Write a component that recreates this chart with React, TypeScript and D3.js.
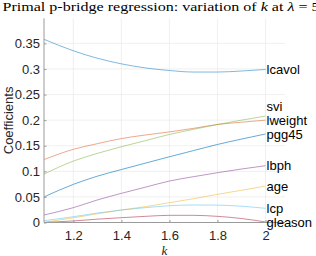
import { useEffect, useRef } from 'react'
import * as d3 from 'd3'

// k values where the coefficients were read
const kValues = [1.078, 1.2, 1.3, 1.4, 1.5, 1.6, 1.7, 1.8, 1.9, 2.0]

const lcavol = [0.358, 0.3355, 0.321, 0.31, 0.302, 0.297, 0.294, 0.294, 0.296, 0.299]
const lweight = [0.123, 0.143, 0.154, 0.164, 0.171, 0.177, 0.184, 0.1915, 0.196, 0.2]
const age = [0.0005, 0.009, 0.017, 0.0244, 0.031, 0.0387, 0.0465, 0.055, 0.063, 0.0712]
const lbph = [0.0146, 0.029, 0.044, 0.057, 0.069, 0.081, 0.0895, 0.0973, 0.1045, 0.111]
const svi = [0.0946, 0.12, 0.135, 0.148, 0.16, 0.172, 0.182, 0.1915, 0.2, 0.208]
const lcp = [0.0035, 0.0113, 0.0185, 0.0244, 0.029, 0.0328, 0.0342, 0.034, 0.0318, 0.0277]
const gleason = [0.0, 0.003, 0.0065, 0.0094, 0.012, 0.014, 0.014, 0.012, 0.0078, 0.001]
const pgg45 = [0.05, 0.0745, 0.0905, 0.1035, 0.116, 0.1285, 0.1405, 0.1525, 0.163, 0.173]

const seriesNames = ['lcavol', 'lweight', 'age', 'lbph', 'svi', 'lcp', 'gleason', 'pgg45']
const seriesValues = [lcavol, lweight, age, lbph, svi, lcp, gleason, pgg45]

const xTicks = [1.2, 1.4, 1.6, 1.8, 2]
const yTicks = [0, 0.05, 0.1, 0.15, 0.2, 0.25, 0.3, 0.35]

// matlab default colour order
const colors = ['#0072BD', '#D95319', '#EDB120', '#7E2F8E', '#77AC30', '#4DBEEE', '#A2142F', '#0072BD']

export default function App() {
  const svgRef = useRef<SVGSVGElement>(null)
  const width = 316
  const height = 256

  useEffect(() => {
    if (!svgRef.current) return

    const marginLeft = 44
    const marginRight = 31
    const marginTop = 18.3
    const marginBottom = 33.5
    const sans = '"Liberation Sans", Arial, sans-serif'
    const serif = '"Liberation Serif", "DejaVu Serif", serif'

    const svg = d3.select(svgRef.current)
    svg.selectAll('*').remove()

    const x = d3.scaleLinear()
      .domain([1.078, 2.081])
      .range([marginLeft, width - marginRight])
    const y = d3.scaleLinear()
      .domain([0, 0.399])
      .range([height - marginBottom, marginTop])

    // Grid
    const grid = svg.append('g').attr('stroke', '#e6e6e6').attr('stroke-width', 0.6)
    grid.selectAll('line.v')
      .data(xTicks)
      .join('line')
      .attr('x1', d => x(d)).attr('x2', d => x(d))
      .attr('y1', marginTop).attr('y2', height - marginBottom)
    grid.selectAll('line.h')
      .data(yTicks)
      .join('line')
      .attr('class', 'h')
      .attr('x1', marginLeft).attr('x2', width - marginRight)
      .attr('y1', d => y(d)).attr('y2', d => y(d))

    // Lines
    const line = d3.line<number>()
      .x((_, i) => x(kValues[i]))
      .y(d => y(d))
      .curve(d3.curveMonotoneX)

    svg.append('g')
      .selectAll('path')
      .data(seriesValues)
      .join('path')
      .attr('fill', 'none')
      .attr('stroke', (_, i) => colors[i])
      .attr('stroke-opacity', (_, i) => (i === 7 ? 0.6 : 0.5))
      .attr('stroke-width', 1)
      .attr('d', d => line(d))

    // Axes
    const axisColor = '#9a9a9a'
    const yAxis = svg.append('g')
      .attr('transform', `translate(${marginLeft},0)`)
      .call(d3.axisLeft(y).tickValues(yTicks).tickSize(-2.5).tickPadding(4)
        .tickFormat(d => d3.format('~g')(+d)))
    const xAxis = svg.append('g')
      .attr('transform', `translate(0,${height - marginBottom})`)
      .call(d3.axisBottom(x).tickValues(xTicks).tickSize(-2.5).tickPadding(8.5)
        .tickFormat(d => d3.format('~g')(+d)))
    ;[xAxis, yAxis].forEach(g => {
      g.select('.domain').remove()
      g.selectAll('.tick line').attr('stroke', axisColor)
      g.selectAll('.tick text')
        .attr('fill', '#262626')
        .style('font', `13px ${sans}`)
    })
    svg.append('line')
      .attr('x1', marginLeft).attr('x2', marginLeft)
      .attr('y1', marginTop).attr('y2', height - marginBottom)
      .attr('stroke', axisColor)
    svg.append('line')
      .attr('x1', marginLeft).attr('x2', width - marginRight)
      .attr('y1', height - marginBottom).attr('y2', height - marginBottom)
      .attr('stroke', axisColor)

    // End labels, pushed up when they would overlap
    const ends = seriesNames.map((name, i) => ({ name, y: y(seriesValues[i][seriesValues[i].length - 1]) }))
      .sort((a, b) => b.y - a.y)
    for (let i = 1; i < ends.length; ++i) {
      ends[i].y = Math.min(ends[i].y, ends[i - 1].y - 14)
    }
    svg.append('g')
      .selectAll('text')
      .data(ends)
      .join('text')
      .attr('x', x(2) + 1)
      .attr('y', d => d.y)
      .attr('dy', '0.35em')
      .style('font', `13px ${sans}`)
      .attr('fill', '#000')
      .text(d => d.name)

    // Axis labels
    svg.append('text')
      .attr('transform', `translate(12.5,${(marginTop + height - marginBottom) / 2}) rotate(-90)`)
      .attr('text-anchor', 'middle')
      .style('font', `13px ${sans}`)
      .attr('fill', '#262626')
      .text('Coefficients')

    svg.append('text')
      .attr('x', (marginLeft + width - marginRight) / 2)
      .attr('y', 254.5)
      .attr('text-anchor', 'middle')
      .style('font', `italic 13px ${serif}`)
      .attr('fill', '#262626')
      .text('k')

    // Title (runs past the right edge, as in the original)
    const title = svg.append('text')
      .attr('x', 161)
      .attr('y', 10.5)
      .attr('text-anchor', 'middle')
      .attr('textLength', 317)
      .attr('lengthAdjust', 'spacingAndGlyphs')
      .style('font', `13px ${serif}`)
      .attr('fill', '#000')
    title.append('tspan').text('Primal p-bridge regression: variation of ')
    title.append('tspan').attr('font-style', 'italic').text('k')
    title.append('tspan').text(' at ')
    title.append('tspan').attr('font-style', 'italic').text('λ')
    title.append('tspan').text(' = 5')

    return () => {
      svg.selectAll('*').remove()
    }
  }, [])

  return (
    <svg
      ref={svgRef}
      width={width}
      height={height}
      style={{ position: 'absolute', left: 0, top: 0, background: '#fff' }}
    />
  )
}
